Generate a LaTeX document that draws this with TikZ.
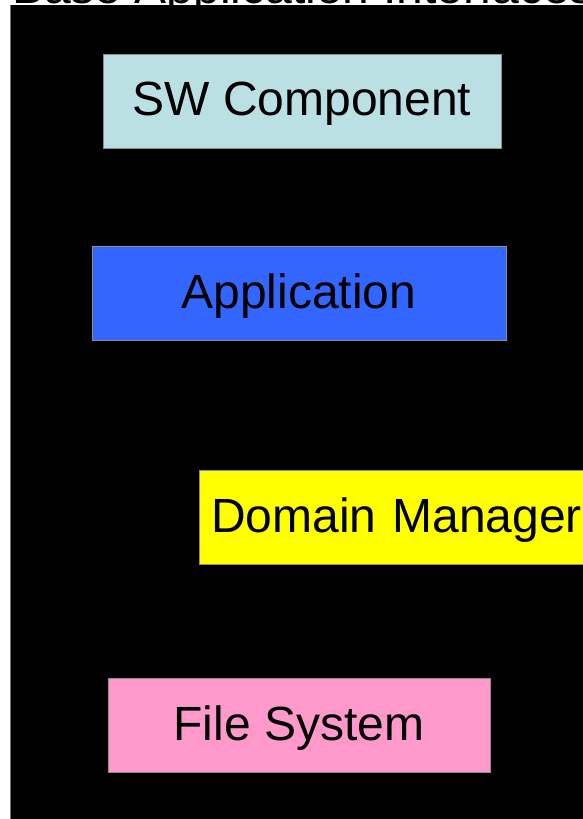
\documentclass[tikz,border=0pt]{standalone}
\usepackage{fontspec}
\setmainfont{Liberation Sans}
\definecolor{swc}{HTML}{BBE0E3}
\definecolor{appc}{HTML}{3366FF}
\definecolor{dmc}{HTML}{FFFF00}
\definecolor{fsc}{HTML}{FF99CC}
\begin{document}
\begin{tikzpicture}[x=1pt,y=-1pt,
  box/.style={draw=black!45, line width=0.4pt, inner sep=0pt, minimum height=94pt,
    font=\fontsize{48}{56}\selectfont, text=black, text depth=4pt}]
\useasboundingbox (0,0) rectangle (583,819);
\clip (0,0) rectangle (583,819);
\fill[white] (0,0) rectangle (583,819);
\node[anchor=base west, font=\fontsize{48}{56}\selectfont, inner sep=0pt] (title) at (12,4) {Base Application Interfaces};
\fill[black] (10,5) rectangle (620,840);
\draw[black!55, line width=0.8pt] (10.4,5) -- (10.4,840);
\node[box, fill=swc, minimum width=398pt] (sw) at (302,101) {SW Component};
\node[box, fill=appc, minimum width=414pt] (app) at (299,293) {Application};
\node[box, fill=dmc, minimum width=420pt, anchor=west, align=left, inner xsep=12pt, text width=396pt] (dm) at (199,517) {Domain Manager};
\node[box, fill=fsc, minimum width=382pt] (fs) at (299,725) {File System};
\end{tikzpicture}
\end{document}
